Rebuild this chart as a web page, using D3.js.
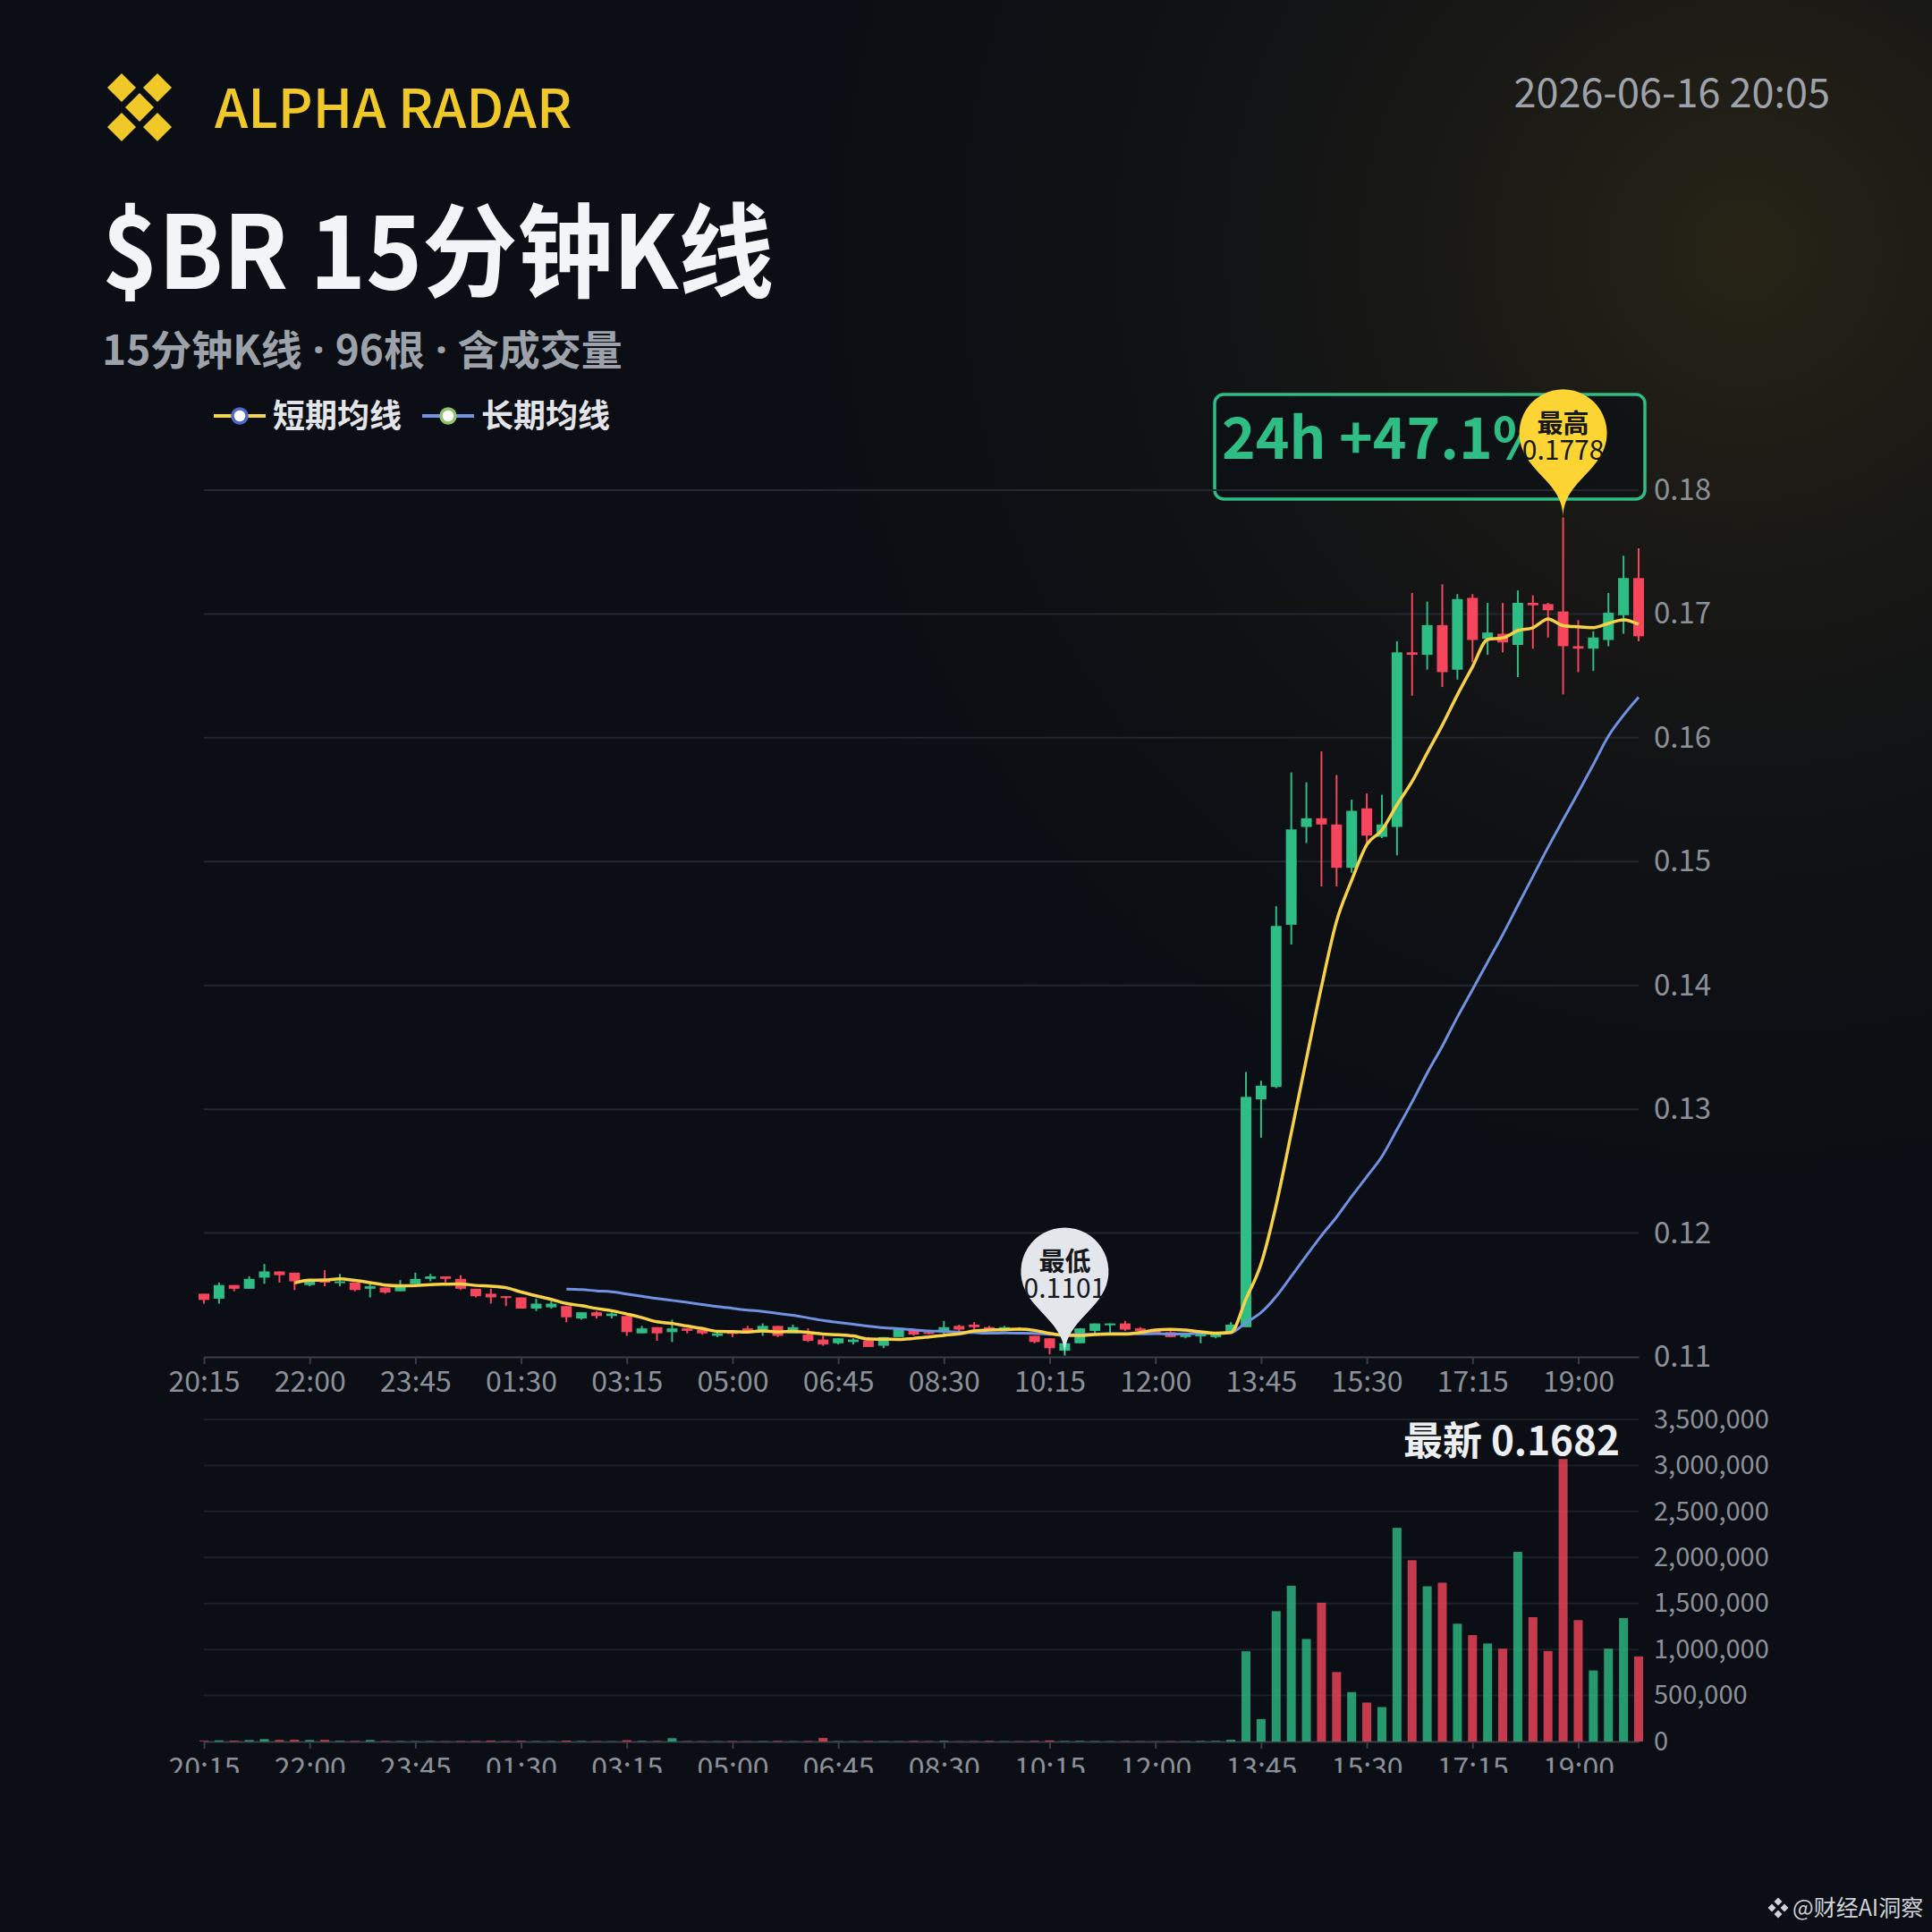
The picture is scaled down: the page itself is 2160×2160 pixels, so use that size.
<!DOCTYPE html>
<html>
<head>
<meta charset="utf-8">
<script src="https://cdn.jsdelivr.net/npm/d3@7"></script>
<style>
  html, body { margin: 0; padding: 0; background: #0b0e14; }
  svg { display: block; font-family: "Noto Sans CJK SC", "Noto Sans", sans-serif; }
</style>
</head>
<body>
<svg id="chart" width="2160" height="2160"></svg>
<script>
// 15 minute candles, 96 of them
const times = [
  "20:15","20:30","20:45","21:00","21:15","21:30","21:45","22:00","22:15","22:30","22:45","23:00","23:15","23:30","23:45",
  "00:00","00:15","00:30","00:45","01:00","01:15","01:30","01:45","02:00","02:15","02:30","02:45","03:00","03:15","03:30","03:45",
  "04:00","04:15","04:30","04:45","05:00","05:15","05:30","05:45","06:00","06:15","06:30","06:45","07:00","07:15","07:30","07:45",
  "08:00","08:15","08:30","08:45","09:00","09:15","09:30","09:45","10:00","10:15","10:30","10:45","11:00","11:15","11:30","11:45",
  "12:00","12:15","12:30","12:45","13:00","13:15","13:30","13:45","14:00","14:15","14:30","14:45","15:00","15:15","15:30","15:45",
  "16:00","16:15","16:30","16:45","17:00","17:15","17:30","17:45","18:00","18:15","18:30","18:45","19:00","19:15","19:30","19:45","20:00"
];

const opens = [
  .1151,.1147,.1158,.1155,.1164,.1169,.1168,.1158,.1163,.1160,
  .1160,.1155,.1156,.1153,.1159,.1163,.1165,.1163,.1155,.1151,
  .1149,.1148,.1139,.1140,.1141,.1131,.1136,.1133,.1133,.1119,
  .1124,.1120,.1123,.1122,.1117,.1120,.1123,.1121,.1125,.1119,
  .1118,.1114,.1111,.1112,.1113,.1109,.1116,.1121,.1120,.1120,
  .1125,.1126,.1124,.1123,.1123,.1117,.1115,.1105,.1111,.1121,
  .1126,.1127,.1123,.1121,.1120,.1116,.1117,.1116,.1120,.1124,
  .1308,.1318,.1449,.1528,.1535,.1530,.1495,.1543,.1520,.1528,
  .1669,.1667,.1691,.1655,.1713,.1680,.1684,.1675,.1709,.1708,
  .1702,.1674,.1672,.1679,.1699,.1729
];
const closes = [
  .1146,.1158,.1155,.1163,.1169,.1166,.1161,.1161,.1160,.1161,
  .1154,.1157,.1152,.1157,.1163,.1165,.1163,.1155,.1149,.1148,
  .1148,.1139,.1143,.1143,.1132,.1136,.1133,.1135,.1120,.1123,
  .1119,.1123,.1121,.1119,.1119,.1119,.1121,.1125,.1117,.1124,
  .1113,.1110,.1115,.1114,.1108,.1116,.1123,.1118,.1119,.1124,
  .1122,.1124,.1122,.1124,.1122,.1112,.1107,.1111,.1123,.1127,
  .1127,.1122,.1121,.1120,.1116,.1118,.1118,.1119,.1126,.1310,
  .1319,.1448,.1526,.1535,.1530,.1495,.1541,.1521,.1530,.1669,
  .1667,.1691,.1653,.1712,.1679,.1685,.1677,.1709,.1707,.1703,
  .1674,.1672,.1681,.1701,.1729,.1682
];
const lows = [
  .1143,.1143,.1153,.1155,.1159,.1160,.1154,.1157,.1157,.1157,
  .1153,.1148,.1151,.1153,.1159,.1161,.1160,.1154,.1148,.1143,
  .1141,.1139,.1137,.1139,.1128,.1130,.1131,.1131,.1117,.1119,
  .1113,.1112,.1119,.1118,.1116,.1116,.1121,.1117,.1116,.1119,
  .1112,.1109,.1110,.1110,.1108,.1107,.1116,.1117,.1118,.1118,
  .1121,.1122,.1121,.1123,.1121,.1111,.1102,.1101,.1111,.1119,
  .1119,.1121,.1120,.1118,.1116,.1115,.1111,.1115,.1119,.1124,
  .1277,.1317,.1433,.1515,.1480,.1480,.1491,.1513,.1519,.1505,
  .1634,.1655,.1641,.1647,.1661,.1667,.1669,.1649,.1672,.1681,
  .1635,.1653,.1654,.1674,.1684,.1678
];
const highs = [
  .1151,.1160,.1158,.1165,.1175,.1169,.1168,.1163,.1170,.1167,
  .1160,.1160,.1156,.1162,.1168,.1167,.1165,.1166,.1155,.1155,
  .1149,.1148,.1147,.1145,.1141,.1136,.1137,.1136,.1133,.1125,
  .1124,.1130,.1123,.1122,.1120,.1120,.1125,.1127,.1125,.1126,
  .1123,.1117,.1115,.1115,.1116,.1116,.1123,.1121,.1121,.1129,
  .1126,.1128,.1125,.1125,.1124,.1117,.1115,.1111,.1123,.1127,
  .1127,.1129,.1124,.1122,.1121,.1119,.1119,.1120,.1128,.1330,
  .1323,.1464,.1572,.1564,.1589,.1570,.1550,.1555,.1554,.1678,
  .1717,.1710,.1724,.1716,.1716,.1709,.1709,.1719,.1715,.1709,
  .1778,.1695,.1686,.1717,.1747,.1753
];
const volumes = [
  8000,12000,9000,15000,26000,16000,18000,16000,17000,7000,
  6000,16000,5000,4000,3000,4000,3000,5000,6000,9000,
  5000,8000,4000,3000,10000,5000,4000,3000,14000,6000,
  5000,36000,4000,3000,3000,5000,3000,4000,6000,3000,
  5000,38000,4000,3000,5000,4000,3000,6000,4000,7000,
  3000,4000,6000,3000,4000,7000,12000,5000,6000,4000,
  3000,4000,3000,2000,4000,3000,5000,6000,18000,980000,
  244000,1416000,1693000,1114000,1508000,755000,537000,423000,374000,2322000,
  1970000,1687000,1726000,1280000,1156000,1065000,1009000,2061000,1351000,983000,
  3070000,1319000,772000,1009000,1341000,925000
];

// moving averages (short starts at the 7th candle, long at the 25th)
const maShort = [null,null,null,null,null,null,
  .11597,.11619,.11621,.11630,.11617,.11600,.11580,.11574,.11577,.11584,
  .11587,.11589,.11577,.11571,.11559,.11524,.11493,.11464,.11431,.11413,
  .11391,.11373,.11346,.11317,.11283,.11270,.11249,.11229,.11206,.11204,
  .11201,.11210,.11201,.11206,.11197,.11184,.11179,.11169,.11144,.11143,
  .11141,.11149,.11161,.11174,.11186,.11209,.11217,.11219,.11224,.11214,
  .11190,.11174,.11173,.11180,.11184,.11184,.11197,.11216,.11223,.11216,
  .11203,.11191,.11197,.11467,.11751,.12226,.12809,.13404,.13991,.14519,
  .14849,.15137,.15254,.15459,.15647,.15877,.16103,.16347,.16573,.16794,
  .16806,.16866,.16889,.16960,.16906,.16896,.16890,.16924,.16953,.16917
];
const maLong = [null,null,null,null,null,null,null,null,null,null,null,null,
  null,null,null,null,null,null,null,null,null,null,null,null,
  .11547,.11543,.11533,.11525,.11508,.11490,.11471,.11456,.11440,.11423,.11406,.11392,
  .11378,.11367,.11351,.11336,.11315,.11294,.11278,.11264,.11248,.11235,.11228,.11218,
  .11209,.11206,.11200,.11196,.11191,.11193,.11192,.11190,.11183,.11179,.11181,.11184,
  .11187,.11188,.11186,.11187,.11184,.11186,.11189,.11191,.11196,.11276,.11358,.11488,
  .11651,.11817,.11980,.12129,.12296,.12455,.12618,.12836,.13058,.13292,.13509,.13744,
  .13965,.14188,.14410,.14646,.14880,.15115,.15338,.15559,.15784,.16014,.16182,.16327
];

const priceTicks = [0.11, 0.12, 0.13, 0.14, 0.15, 0.16, 0.17, 0.18];
const volumeTicks = [0, 500000, 1000000, 1500000, 2000000, 2500000, 3000000, 3500000];
const timeTicks = ["20:15","22:00","23:45","01:30","03:15","05:00","06:45","08:30","10:15","12:00","13:45","15:30","17:15","19:00"];

const seriesNames = ["短期均线", "长期均线"];
const subtitleParts = ["15分钟K线", "96根", "含成交量"];
const changeLabel = "24h +47.1%";
const stampLabel = "2026-06-16 20:05";

const UP = "#2ebd85", DOWN = "#f6465d";
const FONT = '"Noto Sans CJK SC", "Noto Sans", sans-serif';

const svg = d3.select("#chart");
const W = 2160, H = 2160;

// background with a faint warm glow in the upper right
const defs = svg.append("defs");
const glow = defs.append("radialGradient").attr("id", "glow")
  .attr("gradientUnits", "userSpaceOnUse")
  .attr("cx", 1950).attr("cy", 280).attr("r", 1200);
glow.append("stop").attr("offset", 0).attr("stop-color", "#4e421a").attr("stop-opacity", 0.42);
glow.append("stop").attr("offset", 0.5).attr("stop-color", "#332c18").attr("stop-opacity", 0.17);
glow.append("stop").attr("offset", 1).attr("stop-color", "#0b0e14").attr("stop-opacity", 0);
defs.append("clipPath").attr("id", "cut").append("rect").attr("x", 0).attr("y", 0).attr("width", W).attr("height", 1982);

svg.append("rect").attr("width", W).attr("height", H).attr("fill", "#0b0e14");
svg.append("rect").attr("width", W).attr("height", H).attr("fill", "url(#glow)");

// scales
const x = d3.scalePoint().domain(times).range([228, 1832]);
const y = d3.scaleLinear().domain([0.11, 0.18]).range([1517, 548]);
const yv = d3.scaleLinear().domain([0, 3500000]).range([1947, 1587]);

// 24h change box (sits behind the grid)
svg.append("rect")
  .attr("x", 1358).attr("y", 441).attr("width", 481).attr("height", 117).attr("rx", 10)
  .attr("fill", "rgba(12,16,20,0.7)").attr("stroke", UP).attr("stroke-width", 3.5);
svg.append("text")
  .attr("x", 1366).attr("y", 513)
  .attr("font-size", 64).attr("font-weight", 700).attr("fill", UP)
  .text(changeLabel);

// grid lines
svg.append("g").selectAll("line")
  .data(priceTicks.slice(1))
  .enter().append("line")
  .attr("x1", 228).attr("x2", 1832)
  .attr("y1", d => y(d)).attr("y2", d => y(d))
  .attr("stroke", "#23272e").attr("stroke-width", 2);
svg.append("g").selectAll("line")
  .data(volumeTicks.slice(1))
  .enter().append("line")
  .attr("x1", 228).attr("x2", 1832)
  .attr("y1", d => yv(d)).attr("y2", d => yv(d))
  .attr("stroke", "#1c2027").attr("stroke-width", 2);

function styleAxis(g, size) {
  g.selectAll(".domain").attr("stroke", "#3a3f47").attr("stroke-width", 2);
  g.selectAll(".tick line").attr("stroke", "#3a3f47").attr("stroke-width", 2);
  g.selectAll("text").attr("fill", "#8c9199").attr("font-size", size).attr("font-family", FONT);
}

// x axes
svg.append("g")
  .attr("transform", "translate(0,1517)")
  .call(d3.axisBottom(x).tickValues(timeTicks).tickSize(8).tickSizeOuter(0).tickPadding(8))
  .call(g => styleAxis(g, 32));
svg.append("g")
  .attr("clip-path", "url(#cut)")
  .append("g")
  .attr("transform", "translate(0,1947)")
  .call(d3.axisBottom(x).tickValues(timeTicks).tickSize(8).tickSizeOuter(0).tickPadding(10))
  .call(g => styleAxis(g, 32));

// y axes on the right
svg.append("g")
  .attr("transform", "translate(1832,0)")
  .call(d3.axisRight(y).tickValues(priceTicks).tickFormat(d3.format(".2f")).tickSize(0).tickPadding(17))
  .call(g => { styleAxis(g, 33); g.select(".domain").remove(); });
svg.append("g")
  .attr("transform", "translate(1832,0)")
  .call(d3.axisRight(yv).tickValues(volumeTicks).tickFormat(d3.format(",")).tickSize(0).tickPadding(17))
  .call(g => { styleAxis(g, 29); g.select(".domain").remove(); });

const idx = d3.range(times.length);
const isUp = i => closes[i] >= opens[i];

// volume bars
svg.append("g").selectAll("rect")
  .data(idx)
  .enter().append("rect")
  .attr("x", i => x(times[i]) - 5)
  .attr("width", 10)
  .attr("y", i => yv(volumes[i]))
  .attr("height", i => yv(0) - yv(volumes[i]))
  .attr("fill", i => isUp(i) ? UP : DOWN)
  .attr("opacity", 0.8);

// candles
const candles = svg.append("g").selectAll("g")
  .data(idx)
  .enter().append("g");
candles.append("line")
  .attr("x1", i => x(times[i])).attr("x2", i => x(times[i]))
  .attr("y1", i => y(highs[i])).attr("y2", i => y(lows[i]))
  .attr("stroke", i => isUp(i) ? UP : DOWN).attr("stroke-width", 2);
candles.append("rect")
  .attr("x", i => x(times[i]) - 6)
  .attr("width", 12)
  .attr("y", i => y(Math.max(opens[i], closes[i])))
  .attr("height", i => Math.max(2, Math.abs(y(opens[i]) - y(closes[i]))))
  .attr("fill", i => isUp(i) ? UP : DOWN);

// moving averages
const maLine = arr => d3.line()
  .defined(i => arr[i] != null)
  .x(i => x(times[i]))
  .y(i => y(arr[i]))
  .curve(d3.curveMonotoneX)(idx);
svg.append("path").attr("d", maLine(maLong))
  .attr("fill", "none").attr("stroke", "#7191e2").attr("stroke-width", 3);
svg.append("path").attr("d", maLine(maShort))
  .attr("fill", "none").attr("stroke", "#f7d247").attr("stroke-width", 3.5);

// pin markers for high / low
function pinPath(px, py, r, h) {
  const p = d3.path();
  const dy = r * r / (h - r);
  const cy = py - h + r + dy;
  const a = Math.asin(dy / r);
  const dx = Math.cos(a) * r, tx = Math.sin(a), ty = Math.cos(a);
  const c1 = r * 0.6, c2 = r * 0.7;
  p.moveTo(px - dx, cy + dy);
  p.arc(px, cy, r, Math.PI - a, Math.PI * 2 + a);
  p.bezierCurveTo(px + dx - tx * c1, cy + dy + ty * c1, px, py - c2, px, py);
  p.bezierCurveTo(px, py - c2, px - dx + tx * c1, cy + dy + ty * c1, px - dx, cy + dy);
  p.closePath();
  return { d: p.toString(), cy: cy };
}
const hiIdx = d3.maxIndex(highs), loIdx = d3.minIndex(lows);
const pins = [
  { name: "最高", i: hiIdx, v: highs[hiIdx], color: "#fcd535" },
  { name: "最低", i: loIdx, v: lows[loIdx], color: "#e3e6eb" }
];
pins.forEach(pn => {
  const px = x(times[pn.i]), py = y(pn.v);
  const shape = pinPath(px, py, 49, 164);
  const g = svg.append("g");
  g.append("path").attr("d", shape.d).attr("fill", pn.color);
  g.append("text").attr("x", px).attr("y", shape.cy - 11).attr("dy", "0.36em")
    .attr("text-anchor", "middle").attr("font-size", 29).attr("font-weight", 700).attr("fill", "#15171b")
    .text(pn.name);
  g.append("text").attr("x", px).attr("y", shape.cy + 19).attr("dy", "0.36em")
    .attr("text-anchor", "middle").attr("font-size", 30).attr("fill", "#15171b")
    .text(d3.format(".4f")(pn.v));
});

// latest price
svg.append("text")
  .attr("x", 1811).attr("y", 1627).attr("text-anchor", "end")
  .attr("font-size", 44).attr("font-weight", 700).attr("fill", "#eceef1")
  .text("最新 " + d3.format(".4f")(closes[closes.length - 1]));

// header: logo, brand, stamp, titles
const logo = svg.append("g").attr("fill", "#f0c929");
[[-20, -22], [20, -22], [0, 0], [-20, 22], [20, 22]].forEach(o => {
  const cx = 156 + o[0], cy = 120 + o[1], s = 16;
  logo.append("path").attr("d", `M${cx},${cy - s}L${cx + s},${cy}L${cx},${cy + s}L${cx - s},${cy}Z`);
});
svg.append("text").attr("x", 240).attr("y", 143)
  .attr("font-size", 60).attr("font-weight", 500).attr("fill", "#f0c929")
  .text("ALPHA RADAR");
svg.append("text").attr("x", 2046).attr("y", 120).attr("text-anchor", "end")
  .attr("font-size", 45).attr("fill", "#9ea3ab")
  .text(stampLabel);
svg.append("text").attr("x", 114).attr("y", 323)
  .attr("font-size", 114).attr("font-weight", 700).attr("fill", "#f2f4f7")
  .attr("textLength", 751).attr("lengthAdjust", "spacingAndGlyphs")
  .text("$BR 15分钟K线");

const sub = svg.append("text").attr("x", 114).attr("y", 408)
  .attr("font-size", 46).attr("font-weight", 700).attr("fill", "#9da2aa");
subtitleParts.forEach((part, k) => {
  if (k > 0) sub.append("tspan").attr("font-family", '"Noto Sans", sans-serif').text(" · ");
  sub.append("tspan").text(part);
});

// legend
const legend = [
  { name: seriesNames[0], line: "#f7d247", ring: "#4d68c9", x: 239 },
  { name: seriesNames[1], line: "#7191e2", ring: "#8fc46f", x: 472 }
];
legend.forEach(l => {
  const g = svg.append("g");
  g.append("line").attr("x1", l.x).attr("x2", l.x + 58).attr("y1", 465).attr("y2", 465)
    .attr("stroke", l.line).attr("stroke-width", 4);
  g.append("circle").attr("cx", l.x + 29).attr("cy", 465).attr("r", 8)
    .attr("fill", "#ffffff").attr("stroke", l.ring).attr("stroke-width", 3.5);
  g.append("text").attr("x", l.x + 66).attr("y", 465).attr("dy", "0.36em")
    .attr("font-size", 36).attr("font-weight", 700).attr("fill", "#e3e5e8")
    .text(l.name);
});

// watermark
const wm = svg.append("g").attr("fill", "#cfd2d6");
[[0, -7], [-7, 0], [7, 0], [0, 7]].forEach(o => {
  const cx = 1988 + o[0], cy = 2133 + o[1], s = 4.5;
  wm.append("path").attr("d", `M${cx},${cy - s}L${cx + s},${cy}L${cx},${cy + s}L${cx - s},${cy}Z`);
});
svg.append("text").attr("x", 2004).attr("y", 2142)
  .attr("font-size", 25).attr("fill", "#cfd2d6")
  .text("@财经AI洞察");
</script>
</body>
</html>
